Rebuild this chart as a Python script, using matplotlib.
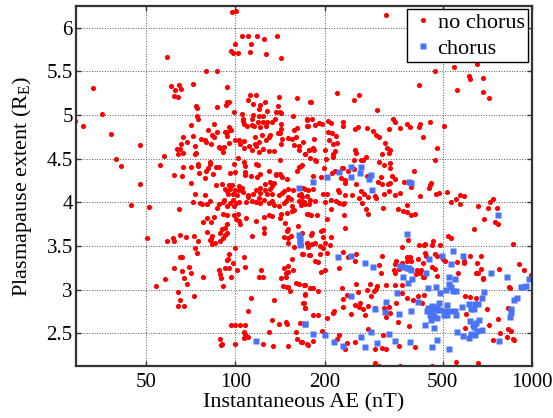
import matplotlib
matplotlib.use('Agg')
import matplotlib.pyplot as plt

# values: (AE in nT, plasmapause extent in RE)
no_chorus_high_left = [
    (97.5, 6.18), (100.5, 6.19), (105.6, 5.905), (110, 5.91), (118, 5.91), (125, 5.87), (138, 5.91),
    (100, 5.81), (113, 5.82), (97, 5.73), (98, 5.71), (102, 5.71), (112, 5.72), (127, 5.70), (142, 5.65),
    (58.6, 5.66), (79.4, 5.51), (86.7, 5.51), (33, 5.31), (60.7, 5.33), (64.6, 5.34), (62.6, 5.29),
    (65.5, 5.30), (62.3, 5.22), (64, 5.21), (71.7, 5.355), (94, 5.32), (112, 5.23), (117.5, 5.23),
    (140.5, 5.21), (161, 5.20), (110, 5.17), (126, 5.15), (179, 5.15), (115, 5.13), (94, 5.15), (95, 5.15),
    (93, 5.11), (87, 5.095), (73.4, 5.10), (74, 5.085), (121, 5.11), (120, 5.07), (139, 5.10), (127.6, 5.05),
    (99, 5.04), (137, 5.03), (141, 5.03), (143, 5.02), (105, 5.015), (35.6, 5.01), (115, 5.00), (120, 4.99),
    (124, 4.985), (156, 4.99), (74.2, 4.985), (75, 4.95), (28.8, 4.93), (30.6, 4.88), (174, 4.95), (114, 4.96),
    (106, 4.955), (106, 4.93), (136, 4.95), (133, 4.925), (128, 4.925), (119, 4.925), (107, 4.90), (109.5, 4.88),
    (114, 4.89), (115.5, 4.87), (121, 4.86), (124, 4.92), (127, 4.87), (143, 4.90), (175, 4.87), (70.6, 4.89),
    (85, 4.90), (81, 4.83), (86.7, 4.81), (92, 4.81), (94, 4.81), (95.5, 4.86), (96.4, 4.83), (38, 4.78),
    (143, 4.84), (139, 4.80), (141, 4.79), (157, 4.83), (161, 4.85), (83.4, 4.77), (85, 4.745), (93.4, 4.755),
    (72, 4.755), (66.4, 4.745), (76.8, 4.73), (79, 4.715), (79.4, 4.69), (68.5, 4.695), (65.6, 4.67), (116, 4.75),
    (123, 4.77), (131, 4.77), (130, 4.75), (127, 4.72), (100, 4.72), (103, 4.72), (107, 4.70), (144, 4.73),
    (150, 4.735), (155, 4.73), (160, 4.75), (184, 4.73), (95, 4.68), (83, 4.67), (103.5, 4.67), (120, 4.69),
    (116, 4.67), (111, 4.65), (107, 4.625), (117, 4.65), (143, 4.665), (157.5, 4.655), (164, 4.645), (73, 4.65),
    (88, 4.64), (91.5, 4.635), (89, 4.62), (91, 4.58), (114, 4.60), (124, 4.615), (120, 4.575), (130, 4.59),
    (135, 4.585), (164, 4.60), (184, 4.6), (177, 4.595), (63.5, 4.61), (65, 4.61), (64, 4.555), (66.5, 4.565),
    (73.4, 4.56), (72.8, 4.55), (47.6, 4.66), (39.6, 4.50), (41, 4.42), (57.5, 4.53), (55.6, 4.43), (47.6, 4.21),
    (102, 4.51), (141.5, 4.485), (98.7, 4.445), (106.7, 4.46), (108, 4.42), (117, 4.435), (119.5, 4.43), (167, 4.42),
    (164, 4.41), (172, 4.55), (161, 4.36), (74.6, 4.445), (75, 4.42), (82, 4.46), (82.3, 4.44), (88, 4.405),
    (86, 4.40), (81, 4.39), (66.5, 4.40), (71, 4.40), (75.3, 4.335), (79.3, 4.355), (84, 4.32), (79, 4.275),
    (62, 4.31), (66.3, 4.30), (70.6, 4.225), (96, 4.34), (100, 4.345), (108, 4.345), (108, 4.31), (113, 4.30),
    (118, 4.29), (121, 4.33), (130, 4.36), (137, 4.33), (141, 4.33), (137, 4.31), (144, 4.29), (149, 4.27),
]

no_chorus_low_left = [
    (86, 4.195), (90.4, 4.205), (95.4, 4.20), (97.7, 4.20), (102.6, 4.19), (105, 4.17), (92, 4.15), (94, 4.135),
    (96, 4.15), (99.5, 4.14), (103, 4.14), (106, 4.12), (94.5, 4.10), (98, 4.095), (101, 4.09), (110, 4.09),
    (110.5, 4.06), (115, 4.10), (117, 4.14), (121, 4.17), (126, 4.21), (131, 4.235), (135, 4.22), (126, 4.14),
    (131, 4.15), (133, 4.19), (121, 4.11), (128, 4.10), (133, 4.095), (140, 4.085), (143.5, 4.11), (145.5, 4.135),
    (151, 4.15), (156, 4.14), (169, 4.16), (176, 4.14), (164, 4.085), (168, 4.065), (174, 4.07), (164, 4.01),
    (168, 4.0), (166, 3.97), (177, 3.98), (154, 4.035), (150, 4.06), (148, 4.02), (146, 3.99), (155, 3.96),
    (157.5, 3.91), (140, 3.96), (133, 4.01), (130, 3.99), (135, 3.97), (124.5, 4.03), (120, 4.045), (117, 4.0),
    (121, 3.99), (114, 4.01), (109, 4.0), (103, 4.0), (100.5, 3.99), (98, 4.03), (96, 3.99), (99, 3.96), (94, 3.96),
    (91, 4.0), (88, 3.98), (87, 3.93), (91.5, 4.03), (82, 4.02), (80.5, 3.98), (77, 3.98), (76, 3.99), (72.8, 4.095),
    (79, 4.09), (72, 4.0), (64.3, 3.92), (51, 3.95), (44.5, 3.97), (91, 3.865), (93.4, 3.86), (98.7, 3.855),
    (101.8, 3.865), (100.5, 3.805), (102.6, 3.79), (104, 3.75), (108.6, 3.82), (117, 3.79), (124.5, 3.83), (130, 3.86),
    (133, 3.845), (143, 3.865), (141, 3.825), (149, 3.875), (155, 3.905), (174, 3.865), (85, 3.83), (80.4, 3.82),
    (78, 3.78), (83, 3.77), (93.4, 3.75), (92, 3.71), (90, 3.69), (88.7, 3.65), (80, 3.655), (94, 3.65), (92.5, 3.625),
    (91, 3.595), (88.5, 3.56), (83.6, 3.615), (83, 3.575), (82, 3.57), (83.4, 3.52), (85.5, 3.54), (114, 3.62),
    (124.5, 3.71), (124.5, 3.65), (147, 3.76), (150, 3.70), (149, 3.675), (162, 3.73), (146, 3.605), (154, 3.615),
    (150, 3.59), (150, 3.53), (158, 3.49), (168, 3.645), (168, 3.41), (177, 3.40), (174, 3.53), (176, 3.50),
    (50.5, 3.595), (59, 3.56), (61.6, 3.59), (62, 3.56), (65.2, 3.625), (68, 3.60), (72.5, 3.62), (74.6, 3.56),
    (73, 3.48), (74, 3.42), (99.5, 3.48), (65, 3.375), (66.3, 3.375), (95, 3.41), (94.5, 3.35), (93.4, 3.335),
    (98, 3.31), (107, 3.375), (155, 3.355), (108, 3.26), (101, 3.23), (62, 3.245), (66.3, 3.215), (70, 3.255),
    (70.6, 3.195), (92, 3.25), (95, 3.25), (88, 3.22), (89, 3.175), (89.5, 3.13), (78, 3.145), (97, 3.14), (67, 3.135),
    (58, 3.12), (68.5, 3.06), (54, 3.04), (91, 3.04), (122, 3.23), (120, 3.145), (124, 3.14), (143, 3.13), (148, 3.14),
    (150, 3.27), (146, 3.245), (150, 3.205), (148, 3.185), (156, 3.23), (145, 3.04), (149, 3.035), (150, 3.03),
    (153, 2.985), (160.5, 3.075), (164, 3.07), (170, 3.05), (178, 3.02), (64, 2.975), (72.5, 2.93), (65, 2.88),
    (64, 2.81), (67, 2.81), (113, 2.905), (135, 2.88), (171, 2.945), (169, 2.85), (171, 2.79), (110, 2.76), (133, 2.65),
    (140, 2.61), (148, 2.63), (149, 2.605), (165, 2.62), (96.5, 2.59), (100, 2.59), (103.5, 2.59), (108, 2.595),
    (130, 2.52), (160, 2.52), (107, 2.515), (108, 2.49), (110, 2.46), (106.7, 2.45), (161, 2.44), (89, 2.44),
    (90.4, 2.38), (89.7, 2.36), (100, 2.38), (124, 2.38), (133.5, 2.35), (150.6, 2.355), (168, 2.40), (175, 2.375),
]

no_chorus_high_right = [
    (323, 6.145), (547, 5.55), (650, 5.59), (470, 5.50), (613, 5.445), (616, 5.415), (686, 5.42), (416, 5.35),
    (558, 5.29), (686, 5.26), (718, 5.20), (220.6, 5.25), (180, 5.15), (251, 5.17), (262, 5.225), (300, 5.06),
    (174.5, 4.94), (181, 4.955), (175.5, 4.87), (186, 4.89), (192, 4.91), (196, 4.895), (206, 4.935), (210, 4.91),
    (230, 4.92), (231, 4.875), (260, 4.865), (254, 4.845), (277, 4.855), (341, 4.955), (346, 4.925), (358, 4.85),
    (380, 4.895), (387, 4.86), (415, 4.86), (420, 4.90), (452, 4.92), (505, 4.88), (329, 4.835), (206, 4.81),
    (211, 4.80), (218, 4.76), (292, 4.815), (297, 4.77), (306, 4.745), (428, 4.745), (207, 4.715), (220, 4.68),
    (214, 4.665), (169, 4.695), (182, 4.62), (177, 4.60), (172, 4.555), (200, 4.60), (216, 4.59), (213, 4.555),
    (213, 4.515), (178, 4.505), (186, 4.49), (187, 4.47), (202.6, 4.50), (254, 4.595), (256, 4.56), (319, 4.675),
    (324, 4.625), (333, 4.595), (329, 4.57), (312, 4.55), (478, 4.62), (470, 4.48), (265, 4.485), (275, 4.52),
    (252, 4.485), (269, 4.48), (304, 4.46), (317, 4.43), (333, 4.45), (332, 4.39), (401, 4.36), (168, 4.425),
    (199, 4.39), (182, 4.305), (194, 4.285), (212, 4.34), (216, 4.365), (228, 4.39), (231, 4.39), (240, 4.355),
    (252, 4.38), (227, 4.28), (234, 4.255), (235, 4.225), (256, 4.215), (278, 4.305), (309, 4.29), (303, 4.23),
    (312, 4.205), (327, 4.215), (333, 4.22), (338, 4.305), (344, 4.27), (369, 4.235), (390, 4.18), (457, 4.225),
    (452, 4.195), (449, 4.16),
]

no_chorus_low_right = [
    (182, 4.15), (172, 4.15), (167, 4.095), (197, 4.095), (203, 4.095), (221, 4.14), (223, 4.12), (235, 4.08),
    (248, 4.08), (265, 4.135), (262, 4.05), (272, 4.095), (281, 4.065), (296, 4.075), (299, 4.045), (316, 4.10),
    (329, 4.13), (346, 4.085), (358, 4.11), (420, 4.075), (473, 4.095), (487, 4.11), (516, 4.12), (533, 4.0),
    (553, 4.04), (570, 4.085), (589, 4.075), (572, 3.985), (736, 4.035), (722, 4.0), (658, 3.96), (710, 3.93),
    (762, 3.94), (690, 3.805), (751, 3.78), (770, 3.755), (638, 3.69), (380, 3.97), (178, 4.03), (185, 4.02),
    (170, 4.0), (172, 3.98), (200, 4.0), (210, 4.03), (219, 4.02), (224, 3.99), (230, 3.98), (233, 3.99), (210, 3.925),
    (232, 3.86), (267, 3.99), (276, 3.92), (280, 3.865), (314, 3.935), (354, 3.925), (366, 3.905), (380, 3.895),
    (392, 3.855), (403, 3.865), (176, 3.87), (180, 3.855), (188, 3.86), (203, 3.805), (235, 3.71), (522, 3.62),
    (534, 3.59), (382, 3.565), (465, 3.56), (461, 3.51), (488, 3.51), (417, 3.51), (431, 3.51), (435, 3.52),
    (365, 3.485), (865, 3.525), (194, 3.675), (197, 3.68), (181, 3.65), (180, 3.625), (210, 3.60), (198, 3.60),
    (200, 3.54), (208, 3.51), (193, 3.50), (198, 3.475), (185, 3.53), (181, 3.52), (175, 3.53), (176, 3.49),
    (167, 3.51), (169, 3.41), (178, 3.40), (193, 3.41), (203, 3.415), (186, 3.33), (190, 3.32), (230, 3.435),
    (240, 3.375), (255, 3.41), (253, 3.33), (224, 3.245), (200, 3.23), (195, 3.20), (311, 3.385), (305, 3.28),
    (309, 3.195), (436, 3.42), (438, 3.39), (412, 3.35), (429, 3.31), (472, 3.41), (478, 3.385), (500, 3.35),
    (380, 3.37), (387, 3.375), (378, 3.33), (390, 3.325), (349, 3.325), (344, 3.29), (364, 3.30), (342, 3.23),
    (346, 3.195), (355, 3.24), (411, 3.23), (407, 3.175), (424, 3.23), (420, 3.185), (433, 3.14), (428, 3.15),
    (460, 3.265), (470, 3.235), (478, 3.155), (508, 3.33), (560, 3.32), (565, 3.195), (590, 3.33), (591, 3.31),
    (618, 3.39), (673, 3.38), (654, 3.30), (646, 3.19), (658, 3.195), (675, 3.235), (681, 3.135), (683, 3.12),
    (772, 3.24), (904, 3.295), (938, 3.225), (991, 3.17), (1000, 3.15), (836, 3.035), (845, 3.015), (171, 3.05),
    (182, 3.02), (190, 2.98), (229, 3.015), (255, 3.07), (260, 2.97), (277, 3.0), (284, 3.06), (297, 3.01), (293, 2.99),
    (301, 3.045), (323, 3.05), (346, 3.05), (365, 3.05), (171, 2.94), (237, 2.94), (230, 2.89), (253, 2.825),
    (263, 2.85), (261, 2.805), (230, 2.80), (286, 2.93), (170, 2.85), (172, 2.79), (270, 2.775), (279, 2.81),
    (296, 2.79), (318, 2.79), (329, 2.805), (331, 2.735), (349, 2.845), (321, 2.69), (183, 2.71), (190, 2.705),
    (215, 2.75), (213, 2.73), (246, 2.725), (274, 2.71), (204, 2.67), (279, 2.55), (352, 2.625), (386, 2.585),
    (365, 2.96), (378, 2.905), (412, 2.93), (431, 2.94), (396, 2.88), (426, 2.845), (596, 2.93), (618, 2.91),
    (646, 2.90), (600, 2.72), (596, 2.555), (704, 2.775), (768, 2.66), (716, 2.59), (829, 2.785), (832, 2.545),
    (851, 2.53), (782, 2.50), (822, 2.455), (860, 2.43), (869, 2.42), (739, 2.425), (196, 2.53), (200, 2.495),
    (224, 2.48), (220, 2.44), (167, 2.40), (176, 2.37), (182, 2.41), (235, 2.32), (238, 2.39), (254, 2.405),
    (315, 2.48), (296, 2.315), (312, 2.335), (321, 2.325), (357, 2.35), (403, 2.345), (295, 2.16), (304, 2.13),
    (358, 2.13), (459, 2.13), (556, 2.17), (657, 2.16),
]

chorus_left = [
    (164, 4.17), (164, 3.625), (164.5, 3.59), (165, 3.56), (165.5, 3.51), (172, 2.61), (117.5, 2.41),
    (266, 4.40), (245, 4.41), (223, 4.345), (264, 4.34), (246, 4.29), (203, 4.295), (287, 4.315), (283, 4.27),
    (183, 4.23), (384, 4.235), (391, 4.225), (288, 4.14), (378, 3.635), (221, 3.375), (246, 3.39), (273, 3.31),
    (290, 3.26), (172, 2.61), (183, 2.49), (201, 2.485), (215, 2.40), (231, 2.35), (265, 2.455), (287, 2.52),
    (329, 2.495), (274, 2.34), (301, 2.385), (344, 2.41), (387, 2.405), (246, 2.925), (323, 2.855), (295, 2.78),
    (320, 2.745), (357, 2.72), (391, 2.75), (351, 2.96),
]

chorus_right = [
    (540, 3.44), (496, 3.38), (584, 3.38), (449, 3.35), (535, 3.295), (360, 3.275), (369, 3.265), (378, 3.25),
    (385, 3.245), (392, 3.22), (440, 3.19), (728, 3.195), (822, 3.145), (368, 3.145), (395, 3.12), (381, 3.075),
    (525, 3.14), (549, 3.12), (525, 3.07), (535, 3.035), (769, 3.855), (975, 3.12), (917, 3.03), (934, 3.035),
    (957, 3.04), (445, 3.02), (473, 3.025), (513, 3.0), (491, 2.965), (540, 2.99), (553, 2.985), (689, 2.975),
    (679, 2.90), (412, 2.855), (485, 2.85), (893, 2.90), (870, 2.88), (611, 2.83), (644, 2.835), (660, 2.835),
    (580, 2.80), (622, 2.78), (638, 2.78), (850, 2.775), (446, 2.795), (461, 2.81), (479, 2.805), (443, 2.75),
    (456, 2.76), (473, 2.77), (491, 2.77), (516, 2.825), (510, 2.76), (531, 2.76), (550, 2.76), (453, 2.71),
    (466, 2.70), (479, 2.68), (456, 2.655), (504, 2.71), (516, 2.71), (553, 2.71), (437, 2.59), (469, 2.555),
    (840, 2.69), (850, 2.735), (616, 2.645), (632, 2.595), (662, 2.655), (646, 2.615), (638, 2.575), (678, 2.54),
    (652, 2.53), (625, 2.49), (612, 2.445), (642, 2.48), (560, 2.52), (587, 2.47), (478, 2.425), (461, 2.345),
    (523, 2.32), (773, 2.415),
]

x_ticks = [50, 100, 200, 500, 1000]
y_ticks = [2.5, 3, 3.5, 4, 4.5, 5, 5.5, 6]
y_tick_labels = ['2.5', '3', '3.5', '4', '4.5', '5', '5.5', '6']

plt.rcParams['font.family'] = ['Liberation Serif', 'DejaVu Serif']
plt.rcParams['mathtext.fontset'] = 'custom'
plt.rcParams['mathtext.rm'] = 'Liberation Serif'

no_chorus = no_chorus_high_left + no_chorus_low_left + no_chorus_high_right + no_chorus_low_right
chorus = chorus_left + chorus_right

fig = plt.figure(figsize=(5.53, 4.18), dpi=100)
ax = fig.add_axes([75.5 / 553, 1 - 366 / 418, (532 - 75.5) / 553, (366 - 6) / 418])

ax.plot(*zip(*no_chorus), ls='none', marker='o', ms=3.7, color='#ff0000', mec='none', label='no chorus')
ax.plot(*zip(*chorus), ls='none', marker='s', ms=4.0, color='#4a74f5', mec='none', label='chorus')

ax.set_xscale('log')
ax.set_xlim(28.9, 1000)
ax.set_ylim(2.125, 6.25)
ax.set_xticks(x_ticks)
ax.set_xticklabels([str(t) for t in x_ticks])
ax.minorticks_off()
ax.set_yticks(y_ticks)
ax.set_yticklabels(y_tick_labels)
ax.tick_params(which='major', direction='in', top=True, right=True, length=3.5, width=1,
               color='#333333', labelsize=15)
ax.tick_params(axis='x', pad=5)
ax.tick_params(axis='y', pad=2)
ax.grid(True, color='#555555', ls=':', lw=0.7)
ax.set_axisbelow(True)
for s in ax.spines.values():
    s.set_linewidth(1.6)
    s.set_color('#333333')

ax.set_xlabel('Instantaneous AE (nT)', fontsize=16, labelpad=1)
ax.set_ylabel(r'Plasmapause extent (R$_{\mathrm{E}}$)', fontsize=16, labelpad=9)

leg = ax.legend(loc='upper right', bbox_to_anchor=(0.991, 0.992), fontsize=16, fancybox=False, framealpha=1,
                edgecolor='black', borderaxespad=0, handletextpad=0.06, labelspacing=0.25,
                borderpad=0.15, handlelength=1.15)
leg.get_frame().set_linewidth(1.0)

fig.savefig('out.png', dpi=100)
